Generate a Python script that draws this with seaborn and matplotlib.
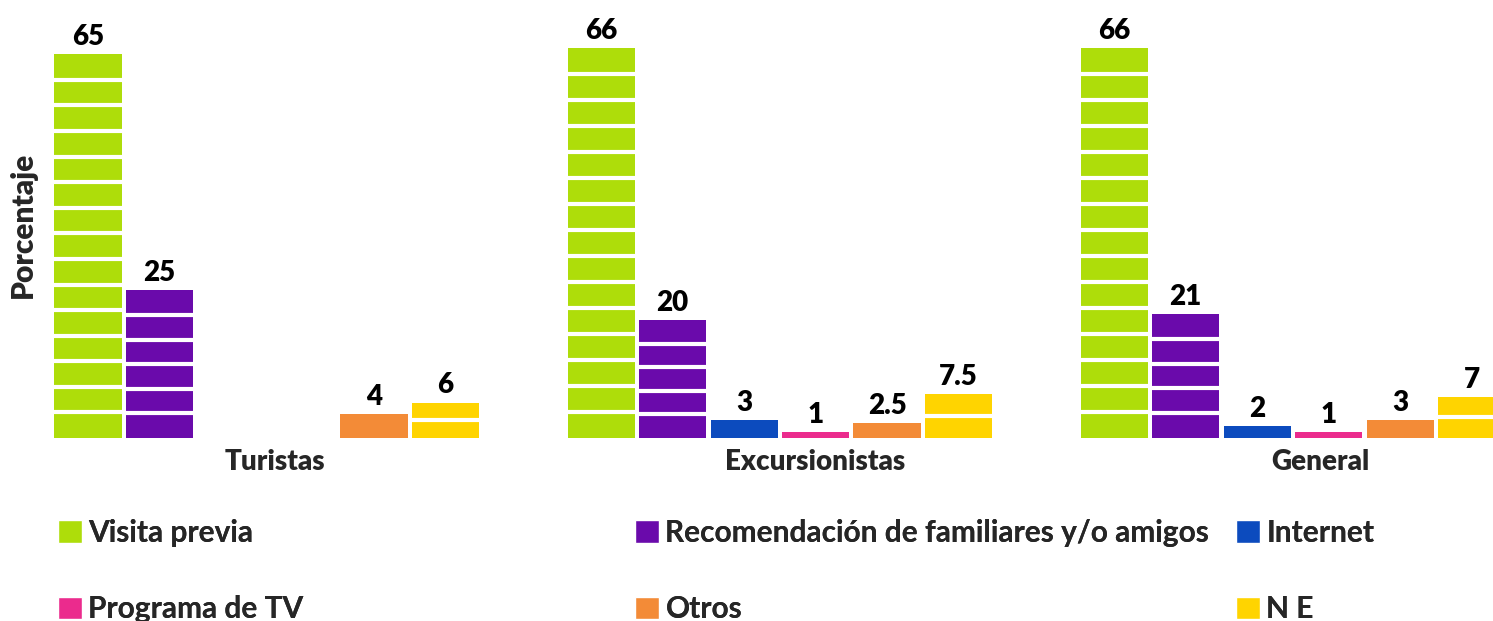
import math
import pandas as pd
import matplotlib
matplotlib.use("Agg")
import matplotlib.pyplot as plt
import matplotlib.transforms as mtransforms
from matplotlib.patches import Patch
import seaborn as sns

grupos = ["Turistas", "Excursionistas", "General"]
fuentes = [
    "Visita previa",
    "Recomendación de familiares y/o amigos",
    "Internet",
    "Programa de TV",
    "Otros",
    "N E",
]
visita_previa = [65, 66, 66]
recomendacion = [25, 20, 21]
internet = [0, 3, 2]
programa_tv = [0, 1, 1]
otros = [4, 2.5, 3]
no_especifica = [6, 7.5, 7]
colores = ["#AEDD0A", "#6A0AAB", "#0C4BBE", "#EB2B8D", "#F38B37", "#FFD400"]

SEGMENTO = 4.45  # porcentaje que cubre cada bloque de las barras

sns.set_theme(style="white")
plt.rcParams["font.family"] = ["Lato", "DejaVu Sans"]

series = [visita_previa, recomendacion, internet, programa_tv, otros, no_especifica]
rows = []
for fuente, valores in zip(fuentes, series):
    for grupo, v in zip(grupos, valores):
        rows.append({"grupo": grupo, "fuente": fuente, "porcentaje": v})
df = pd.DataFrame(rows)

fig = plt.figure(figsize=(14.93, 6.21), dpi=100)
ax = fig.add_axes([0, 183 / 621, 1, 438 / 621])

sns.barplot(
    data=df, x="grupo", y="porcentaje", hue="fuente",
    order=grupos, hue_order=fuentes, palette=colores,
    width=0.836, gap=0.06, errorbar=None, saturation=1,
    linewidth=0, legend=False, ax=ax,
)

# lineas blancas que parten cada barra en bloques
for p in ax.patches:
    h = p.get_height()
    if h <= 0:
        continue
    n = math.ceil(h / SEGMENTO)
    x0 = p.get_x()
    x1 = x0 + p.get_width()
    for k in range(1, n):
        ax.hlines(h * k / n, x0, x1, color="white", lw=3, zorder=3)

for cont in ax.containers:
    etiquetas = [f"{v:g}" if v > 0 else "" for v in cont.datavalues]
    ax.bar_label(cont, labels=etiquetas, padding=3, fontsize=20,
                 fontweight="heavy", color="black")

ax.set_xlim(-0.52, 2.39)
ax.set_ylim(0, 74.2)
sns.despine(ax=ax, left=True, bottom=True)
ax.set_yticks([])
ax.set_xlabel("")
ax.set_xticks(range(len(grupos)))
ax.set_xticklabels(grupos, fontsize=20, fontweight="heavy")
ax.tick_params(axis="x", length=0, pad=8)
desplazamientos = [8, 35, 27]
for lab, dx in zip(ax.get_xticklabels(), desplazamientos):
    lab.set_transform(lab.get_transform()
                      + mtransforms.ScaledTranslation(dx / 100, 0, fig.dpi_scale_trans))

ax.set_ylabel("Porcentaje", fontsize=21.5, fontweight="heavy")
ax.yaxis.set_label_coords(37 / 1493, 0.486)

# leyenda en tres columnas colocadas a mano
handles = [Patch(facecolor=c, edgecolor="white", linewidth=1) for c in colores]
columnas_x = [58, 635, 1236]
for i, x in enumerate(columnas_x):
    idx = [i, i + 3]
    leg = fig.legend(
        [handles[j] for j in idx], [fuentes[j] for j in idx],
        loc="upper left", bbox_to_anchor=(x / 1493, 1 - 519 / 621),
        frameon=False, handlelength=0.8, handleheight=0.8,
        handletextpad=0.22, labelspacing=1.62, borderpad=0, borderaxespad=0,
        prop={"weight": "bold", "size": 21.5},
    )
    fig.add_artist(leg)

fig.savefig("out.png", dpi=100)
